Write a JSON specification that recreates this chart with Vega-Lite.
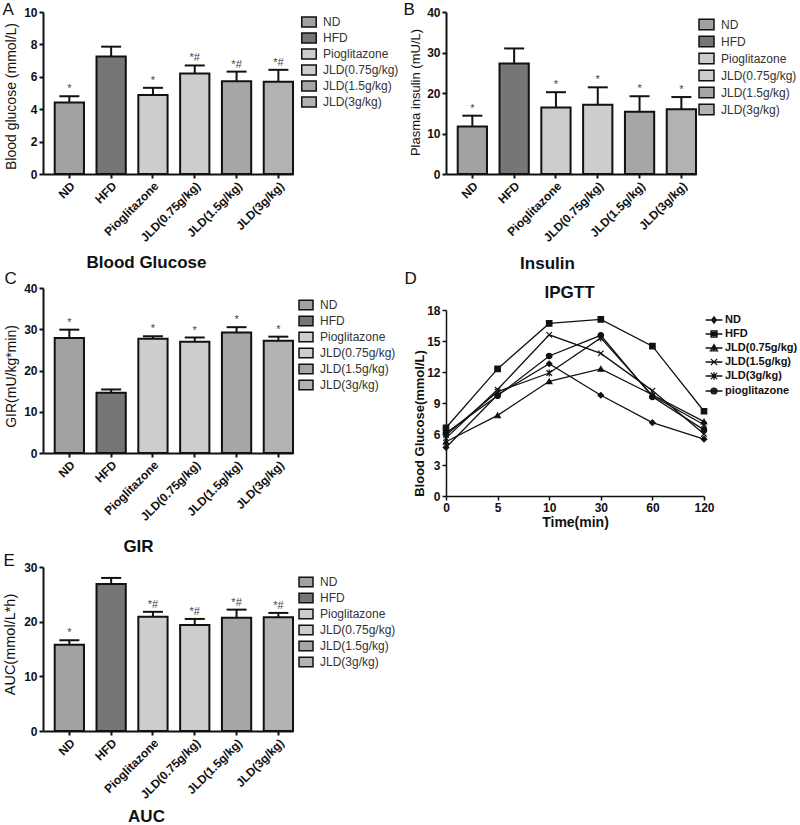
{
  "$schema": "https://vega.github.io/schema/vega-lite/v6.json",
  "background": "white",
  "padding": {"left": 2, "top": 0, "right": 0, "bottom": 3},
  "config": {
    "view": {"stroke": null},
    "font": "Liberation Sans",
    "axis": {"grid": false, "domainColor": "#111", "tickColor": "#111", "labelColor": "#111", "titleColor": "#111", "domainWidth": 2, "tickWidth": 2, "tickSize": 4, "labelFontSize": 12, "labelFontWeight": "bold", "labelPadding": 2, "labelFont": "Liberation Sans", "titleFont": "Liberation Sans", "labelOverlap": false, "labelFlush": false},
    "legend": {"padding": 0, "labelFont": "Liberation Sans"},
    "text": {"font": "Liberation Sans"}
  },
  "datasets": {
    "glucose": [
      {"group": "ND", "mean": 4.42, "upper": 4.8, "sig": "*"},
      {"group": "HFD", "mean": 7.25, "upper": 7.86, "sig": ""},
      {"group": "Pioglitazone", "mean": 4.87, "upper": 5.32, "sig": "*"},
      {"group": "JLD(0.75g/kg)", "mean": 6.2, "upper": 6.7, "sig": "*#"},
      {"group": "JLD(1.5g/kg)", "mean": 5.72, "upper": 6.32, "sig": "*#"},
      {"group": "JLD(3g/kg)", "mean": 5.69, "upper": 6.43, "sig": "*#"}
    ],
    "insulin": [
      {"group": "ND", "mean": 11.7, "upper": 14.4, "sig": "*"},
      {"group": "HFD", "mean": 27.3, "upper": 31.0, "sig": ""},
      {"group": "Pioglitazone", "mean": 16.4, "upper": 20.2, "sig": "*"},
      {"group": "JLD(0.75g/kg)", "mean": 17.1, "upper": 21.4, "sig": "*"},
      {"group": "JLD(1.5g/kg)", "mean": 15.4, "upper": 19.2, "sig": "*"},
      {"group": "JLD(3g/kg)", "mean": 16.0, "upper": 19.0, "sig": "*"}
    ],
    "gir": [
      {"group": "ND", "mean": 27.9, "upper": 29.9, "sig": "*"},
      {"group": "HFD", "mean": 14.6, "upper": 15.4, "sig": ""},
      {"group": "Pioglitazone", "mean": 27.7, "upper": 28.3, "sig": "*"},
      {"group": "JLD(0.75g/kg)", "mean": 27.0, "upper": 28.0, "sig": "*"},
      {"group": "JLD(1.5g/kg)", "mean": 29.2, "upper": 30.5, "sig": "*"},
      {"group": "JLD(3g/kg)", "mean": 27.2, "upper": 28.2, "sig": "*"}
    ],
    "auc": [
      {"group": "ND", "mean": 15.8, "upper": 16.6, "sig": "*"},
      {"group": "HFD", "mean": 26.9, "upper": 28.0, "sig": ""},
      {"group": "Pioglitazone", "mean": 20.9, "upper": 21.8, "sig": "*#"},
      {"group": "JLD(0.75g/kg)", "mean": 19.4, "upper": 20.5, "sig": "*#"},
      {"group": "JLD(1.5g/kg)", "mean": 20.7, "upper": 22.2, "sig": "*#"},
      {"group": "JLD(3g/kg)", "mean": 20.8, "upper": 21.6, "sig": "*#"}
    ],
    "ipgtt": [
      {"group": "ND", "time": 0, "glucose": 4.7},
      {"group": "ND", "time": 5, "glucose": 9.8},
      {"group": "ND", "time": 10, "glucose": 12.8},
      {"group": "ND", "time": 30, "glucose": 9.75},
      {"group": "ND", "time": 60, "glucose": 7.1},
      {"group": "ND", "time": 120, "glucose": 5.5},
      {"group": "HFD", "time": 0, "glucose": 6.6},
      {"group": "HFD", "time": 5, "glucose": 12.3},
      {"group": "HFD", "time": 10, "glucose": 16.7},
      {"group": "HFD", "time": 30, "glucose": 17.1},
      {"group": "HFD", "time": 60, "glucose": 14.5},
      {"group": "HFD", "time": 120, "glucose": 8.2},
      {"group": "JLD(0.75g/kg)", "time": 0, "glucose": 5.25},
      {"group": "JLD(0.75g/kg)", "time": 5, "glucose": 7.8},
      {"group": "JLD(0.75g/kg)", "time": 10, "glucose": 11.1},
      {"group": "JLD(0.75g/kg)", "time": 30, "glucose": 12.3},
      {"group": "JLD(0.75g/kg)", "time": 60, "glucose": 9.8},
      {"group": "JLD(0.75g/kg)", "time": 120, "glucose": 7.2},
      {"group": "JLD(1.5g/kg)", "time": 0, "glucose": 5.6},
      {"group": "JLD(1.5g/kg)", "time": 5, "glucose": 10.3},
      {"group": "JLD(1.5g/kg)", "time": 10, "glucose": 15.6},
      {"group": "JLD(1.5g/kg)", "time": 30, "glucose": 13.8},
      {"group": "JLD(1.5g/kg)", "time": 60, "glucose": 10.2},
      {"group": "JLD(1.5g/kg)", "time": 120, "glucose": 6.0},
      {"group": "JLD(3g/kg)", "time": 0, "glucose": 5.9},
      {"group": "JLD(3g/kg)", "time": 5, "glucose": 10.1},
      {"group": "JLD(3g/kg)", "time": 10, "glucose": 11.9},
      {"group": "JLD(3g/kg)", "time": 30, "glucose": 15.3},
      {"group": "JLD(3g/kg)", "time": 60, "glucose": 9.7},
      {"group": "JLD(3g/kg)", "time": 120, "glucose": 6.9},
      {"group": "pioglitazone", "time": 0, "glucose": 6.1},
      {"group": "pioglitazone", "time": 5, "glucose": 9.7},
      {"group": "pioglitazone", "time": 10, "glucose": 13.55},
      {"group": "pioglitazone", "time": 30, "glucose": 15.55},
      {"group": "pioglitazone", "time": 60, "glucose": 9.6},
      {"group": "pioglitazone", "time": 120, "glucose": 6.4}
    ]
  },
  "hconcat": [
    {
      "bounds": "flush",
      "spacing": 114,
      "resolve": {"scale": {"fill": "independent"}, "legend": {"fill": "independent"}},
      "vconcat": [
        {
          "width": 250, "height": 162,
          "data": {"name": "glucose"},
          "layer": [
            {
              "mark": {"type": "bar", "stroke": "#111", "strokeWidth": 2},
              "encoding": {
                "x": {"field": "group", "type": "nominal", "sort": null,
                  "scale": {"domain": ["ND", "HFD", "Pioglitazone", "JLD(0.75g/kg)", "JLD(1.5g/kg)", "JLD(3g/kg)"], "paddingInner": 0.3, "paddingOuter": 0.14, "align": 1},
                  "axis": {"orient": "bottom", "title": "Blood Glucose", "titleFontSize": 17, "titleFontWeight": "bold", "titleX": 103, "titleY": 93, "titleAlign": "center", "titleBaseline": "alphabetic", "labelAngle": -45, "labelAlign": "right", "labelBaseline": "top"}},
                "y": {"field": "mean", "type": "quantitative", "scale": {"domain": [0, 10], "nice": false},
                  "axis": {"title": "Blood glucose (mmol/L)", "values": [0, 2, 4, 6, 8, 10], "labelOverlap": false, "titleFontSize": 14, "titleFontWeight": "normal", "titleX": -32, "titleY": 84, "titleAngle": -90, "titleAlign": "center", "titleBaseline": "middle"}},
                "fill": {"field": "group", "type": "nominal",
                  "scale": {"domain": ["ND", "HFD", "Pioglitazone", "JLD(0.75g/kg)", "JLD(1.5g/kg)", "JLD(3g/kg)"], "range": ["#a2a2a2", "#767676", "#cdcdcd", "#cdcdcd", "#a6a6a6", "#b2b2b2"]},
                  "legend": {"orient": "none", "legendX": 258, "legendY": 2, "title": null, "symbolType": "M-1,-0.69L1,-0.69L1,0.69L-1,0.69Z", "symbolSize": 210, "symbolStrokeColor": "#111", "symbolStrokeWidth": 1.5, "labelFontSize": 12, "labelColor": "#333", "labelFontWeight": "normal", "labelOffset": 6, "rowPadding": 0, "padding": 0}}
              }
            },
            {
              "mark": {"type": "rule", "color": "#111", "strokeWidth": 2},
              "encoding": {
                "x": {"field": "group", "type": "nominal", "sort": null, "axis": null},
                "y": {"field": "mean", "type": "quantitative", "axis": null},
                "y2": {"field": "upper"}
              }
            },
            {
              "mark": {"type": "tick", "color": "#111", "thickness": 2, "size": 20, "orient": "horizontal", "opacity": 1},
              "encoding": {
                "x": {"field": "group", "type": "nominal", "sort": null, "axis": null},
                "y": {"field": "upper", "type": "quantitative", "axis": null}
              }
            },
            {
              "mark": {"type": "text", "dy": -7, "fontSize": 11, "color": "#444"},
              "encoding": {
                "x": {"field": "group", "type": "nominal", "sort": null,
                  "axis": {"orient": "top", "title": "A", "domain": false, "ticks": false, "labels": false, "titleX": -41, "titleY": 2, "titleAlign": "left", "titleBaseline": "alphabetic", "titleAngle": 0, "titleFontSize": 17, "titleFontWeight": "normal"}},
                "y": {"field": "upper", "type": "quantitative", "axis": null},
                "text": {"field": "sig"}
              }
            }
          ],
          "resolve": {"axis": {"x": "independent", "y": "independent"}}
        },
        {
          "width": 250, "height": 165,
          "data": {"name": "gir"},
          "layer": [
            {
              "mark": {"type": "bar", "stroke": "#111", "strokeWidth": 2},
              "encoding": {
                "x": {"field": "group", "type": "nominal", "sort": null,
                  "scale": {"domain": ["ND", "HFD", "Pioglitazone", "JLD(0.75g/kg)", "JLD(1.5g/kg)", "JLD(3g/kg)"], "paddingInner": 0.3, "paddingOuter": 0.14, "align": 1},
                  "axis": {"orient": "bottom", "title": "GIR", "titleFontSize": 17, "titleFontWeight": "bold", "titleX": 95, "titleY": 98, "titleAlign": "center", "titleBaseline": "alphabetic", "labelAngle": -45, "labelAlign": "right", "labelBaseline": "top"}},
                "y": {"field": "mean", "type": "quantitative", "scale": {"domain": [0, 40], "nice": false},
                  "axis": {"title": "GIR(mU/kg*min)", "values": [0, 10, 20, 30, 40], "labelOverlap": false, "titleFontSize": 14, "titleFontWeight": "normal", "titleX": -32, "titleY": 88, "titleAngle": -90, "titleAlign": "center", "titleBaseline": "middle"}},
                "fill": {"field": "group", "type": "nominal",
                  "scale": {"domain": ["ND", "HFD", "Pioglitazone", "JLD(0.75g/kg)", "JLD(1.5g/kg)", "JLD(3g/kg)"], "range": ["#a2a2a2", "#767676", "#cdcdcd", "#cdcdcd", "#a6a6a6", "#b2b2b2"]},
                  "legend": {"orient": "none", "legendX": 255, "legendY": 9, "title": null, "symbolType": "M-1,-0.69L1,-0.69L1,0.69L-1,0.69Z", "symbolSize": 196, "symbolStrokeColor": "#111", "symbolStrokeWidth": 1.5, "labelFontSize": 12, "labelColor": "#333", "labelFontWeight": "normal", "labelOffset": 6, "rowPadding": 0, "padding": 0}}
              }
            },
            {
              "mark": {"type": "rule", "color": "#111", "strokeWidth": 2},
              "encoding": {
                "x": {"field": "group", "type": "nominal", "sort": null, "axis": null},
                "y": {"field": "mean", "type": "quantitative", "axis": null},
                "y2": {"field": "upper"}
              }
            },
            {
              "mark": {"type": "tick", "color": "#111", "thickness": 2, "size": 20, "orient": "horizontal", "opacity": 1},
              "encoding": {
                "x": {"field": "group", "type": "nominal", "sort": null, "axis": null},
                "y": {"field": "upper", "type": "quantitative", "axis": null}
              }
            },
            {
              "mark": {"type": "text", "dy": -7, "fontSize": 11, "color": "#444"},
              "encoding": {
                "x": {"field": "group", "type": "nominal", "sort": null,
                  "axis": {"orient": "top", "title": "C", "domain": false, "ticks": false, "labels": false, "titleX": -39, "titleY": -5, "titleAlign": "left", "titleBaseline": "alphabetic", "titleAngle": 0, "titleFontSize": 17, "titleFontWeight": "normal"}},
                "y": {"field": "upper", "type": "quantitative", "axis": null},
                "text": {"field": "sig"}
              }
            }
          ],
          "resolve": {"axis": {"x": "independent", "y": "independent"}}
        },
        {
          "width": 250, "height": 164,
          "data": {"name": "auc"},
          "layer": [
            {
              "mark": {"type": "bar", "stroke": "#111", "strokeWidth": 2},
              "encoding": {
                "x": {"field": "group", "type": "nominal", "sort": null,
                  "scale": {"domain": ["ND", "HFD", "Pioglitazone", "JLD(0.75g/kg)", "JLD(1.5g/kg)", "JLD(3g/kg)"], "paddingInner": 0.3, "paddingOuter": 0.14, "align": 1},
                  "axis": {"orient": "bottom", "title": "AUC", "titleFontSize": 17, "titleFontWeight": "bold", "titleX": 103, "titleY": 90, "titleAlign": "center", "titleBaseline": "alphabetic", "labelAngle": -45, "labelAlign": "right", "labelBaseline": "top"}},
                "y": {"field": "mean", "type": "quantitative", "scale": {"domain": [0, 30], "nice": false},
                  "axis": {"title": "AUC(mmol/L*h)", "values": [0, 10, 20, 30], "labelOverlap": false, "titleFontSize": 14.5, "titleFontWeight": "normal", "titleX": -33, "titleY": 77, "titleAngle": -90, "titleAlign": "center", "titleBaseline": "middle"}},
                "fill": {"field": "group", "type": "nominal",
                  "scale": {"domain": ["ND", "HFD", "Pioglitazone", "JLD(0.75g/kg)", "JLD(1.5g/kg)", "JLD(3g/kg)"], "range": ["#a2a2a2", "#767676", "#cdcdcd", "#cdcdcd", "#a6a6a6", "#b2b2b2"]},
                  "legend": {"orient": "none", "legendX": 255, "legendY": 7, "title": null, "symbolType": "M-1,-0.69L1,-0.69L1,0.69L-1,0.69Z", "symbolSize": 196, "symbolStrokeColor": "#111", "symbolStrokeWidth": 1.5, "labelFontSize": 12, "labelColor": "#333", "labelFontWeight": "normal", "labelOffset": 6, "rowPadding": 0, "padding": 0}}
              }
            },
            {
              "mark": {"type": "rule", "color": "#111", "strokeWidth": 2},
              "encoding": {
                "x": {"field": "group", "type": "nominal", "sort": null, "axis": null},
                "y": {"field": "mean", "type": "quantitative", "axis": null},
                "y2": {"field": "upper"}
              }
            },
            {
              "mark": {"type": "tick", "color": "#111", "thickness": 2, "size": 20, "orient": "horizontal", "opacity": 1},
              "encoding": {
                "x": {"field": "group", "type": "nominal", "sort": null, "axis": null},
                "y": {"field": "upper", "type": "quantitative", "axis": null}
              }
            },
            {
              "mark": {"type": "text", "dy": -7, "fontSize": 11, "color": "#444"},
              "encoding": {
                "x": {"field": "group", "type": "nominal", "sort": null,
                  "axis": {"orient": "top", "title": "E", "domain": false, "ticks": false, "labels": false, "titleX": -40, "titleY": -2, "titleAlign": "left", "titleBaseline": "alphabetic", "titleAngle": 0, "titleFontSize": 17, "titleFontWeight": "normal"}},
                "y": {"field": "upper", "type": "quantitative", "axis": null},
                "text": {"field": "sig"}
              }
            }
          ],
          "resolve": {"axis": {"x": "independent", "y": "independent"}}
        }
      ]
    },
    {
      "bounds": "flush",
      "spacing": 136,
      "resolve": {"scale": {"fill": "independent", "shape": "independent"}, "legend": {"fill": "independent", "shape": "independent"}},
      "vconcat": [
        {
          "width": 250, "height": 162,
          "data": {"name": "insulin"},
          "layer": [
            {
              "mark": {"type": "bar", "stroke": "#111", "strokeWidth": 2},
              "encoding": {
                "x": {"field": "group", "type": "nominal", "sort": null,
                  "scale": {"domain": ["ND", "HFD", "Pioglitazone", "JLD(0.75g/kg)", "JLD(1.5g/kg)", "JLD(3g/kg)"], "paddingInner": 0.3, "paddingOuter": 0.14, "align": 1},
                  "axis": {"orient": "bottom", "title": "Insulin", "titleFontSize": 17, "titleFontWeight": "bold", "titleX": 101, "titleY": 94, "titleAlign": "center", "titleBaseline": "alphabetic", "labelAngle": -45, "labelAlign": "right", "labelBaseline": "top"}},
                "y": {"field": "mean", "type": "quantitative", "scale": {"domain": [0, 40], "nice": false},
                  "axis": {"title": "Plasma insulin (mU/L)", "values": [0, 10, 20, 30, 40], "labelOverlap": false, "titleFontSize": 13, "titleFontWeight": "normal", "titleX": -31, "titleY": 80, "titleAngle": -90, "titleAlign": "center", "titleBaseline": "middle"}},
                "fill": {"field": "group", "type": "nominal",
                  "scale": {"domain": ["ND", "HFD", "Pioglitazone", "JLD(0.75g/kg)", "JLD(1.5g/kg)", "JLD(3g/kg)"], "range": ["#a2a2a2", "#767676", "#cdcdcd", "#cdcdcd", "#a6a6a6", "#b2b2b2"]},
                  "legend": {"orient": "none", "legendX": 252, "legendY": 4, "title": null, "symbolType": "M-1,-0.69L1,-0.69L1,0.69L-1,0.69Z", "symbolSize": 225, "symbolStrokeColor": "#111", "symbolStrokeWidth": 1.5, "labelFontSize": 12, "labelColor": "#333", "labelFontWeight": "normal", "labelOffset": 6, "rowPadding": 0, "padding": 0}}
              }
            },
            {
              "mark": {"type": "rule", "color": "#111", "strokeWidth": 2},
              "encoding": {
                "x": {"field": "group", "type": "nominal", "sort": null, "axis": null},
                "y": {"field": "mean", "type": "quantitative", "axis": null},
                "y2": {"field": "upper"}
              }
            },
            {
              "mark": {"type": "tick", "color": "#111", "thickness": 2, "size": 20, "orient": "horizontal", "opacity": 1},
              "encoding": {
                "x": {"field": "group", "type": "nominal", "sort": null, "axis": null},
                "y": {"field": "upper", "type": "quantitative", "axis": null}
              }
            },
            {
              "mark": {"type": "text", "dy": -7, "fontSize": 11, "color": "#444"},
              "encoding": {
                "x": {"field": "group", "type": "nominal", "sort": null,
                  "axis": {"orient": "top", "title": "B", "domain": false, "ticks": false, "labels": false, "titleX": -43, "titleY": 2, "titleAlign": "left", "titleBaseline": "alphabetic", "titleAngle": 0, "titleFontSize": 17, "titleFontWeight": "normal"}},
                "y": {"field": "upper", "type": "quantitative", "axis": null},
                "text": {"field": "sig"}
              }
            }
          ],
          "resolve": {"axis": {"x": "independent", "y": "independent"}}
        },
        {
          "width": 258, "height": 186,
          "data": {"name": "ipgtt"},
          "layer": [
            {
              "mark": {"type": "line", "color": "#111", "strokeWidth": 1.3},
              "encoding": {
                "x": {"field": "time", "type": "ordinal",
                  "scale": {"type": "point", "padding": 0, "domain": [0, 5, 10, 30, 60, 120]},
                  "axis": {"orient": "bottom", "title": "Time(min)", "labelAngle": 0, "titleFontSize": 14, "titleFontWeight": "bold", "titleX": 129, "titleY": 30, "titleAlign": "center", "titleBaseline": "alphabetic", "domainWidth": 1.5, "tickWidth": 1.5, "labelPadding": 2}},
                "y": {"field": "glucose", "type": "quantitative", "scale": {"domain": [0, 18], "nice": false},
                  "axis": {"title": "Blood Glucose(mmol/L)", "values": [0, 3, 6, 9, 12, 15, 18], "labelOverlap": false, "titleFontSize": 13, "titleFontWeight": "bold", "titleX": -27, "titleY": 113, "titleAngle": -90, "titleAlign": "center", "titleBaseline": "middle", "domainWidth": 1.5, "tickWidth": 1.5}},
                "detail": {"field": "group"}
              }
            },
            {
              "mark": {"type": "point", "filled": true, "color": "#111", "stroke": "#111", "strokeWidth": 1.2, "size": 30, "opacity": 1},
              "encoding": {
                "x": {"field": "time", "type": "ordinal",
                  "axis": {"orient": "top", "title": "IPGTT", "domain": false, "ticks": false, "labels": false, "titleX": 123, "titleY": -13, "titleAlign": "center", "titleBaseline": "alphabetic", "titleAngle": 0, "titleFontSize": 17, "titleFontWeight": "bold"}},
                "y": {"field": "glucose", "type": "quantitative", "axis": null},
                "shape": {"field": "group", "type": "nominal",
                  "scale": {"domain": ["ND", "HFD", "JLD(0.75g/kg)", "JLD(1.5g/kg)", "JLD(3g/kg)", "pioglitazone"], "range": ["diamond", "square", "triangle-up", "M-1,-1L1,1M-1,1L1,-1", "M-1,-1L1,1M-1,1L1,-1M0,-1.3L0,1.3", "circle"]},
                  "legend": null}
              }
            },
            {
              "transform": [{"filter": "false"}],
              "mark": {"type": "point", "filled": false, "color": "#111", "strokeWidth": 1.3, "size": 196, "opacity": 1},
              "encoding": {
                "x": {"field": "time", "type": "ordinal", "axis": null},
                "y": {"field": "glucose", "type": "quantitative",
                  "axis": {"orient": "right", "title": "D", "domain": false, "ticks": false, "labels": false, "titleX": -300, "titleY": -27, "titleAlign": "left", "titleBaseline": "alphabetic", "titleAngle": 0, "titleFontSize": 17, "titleFontWeight": "normal"}},
                "shape": {"field": "group", "type": "nominal",
                  "scale": {"domain": ["ND", "HFD", "JLD(0.75g/kg)", "JLD(1.5g/kg)", "JLD(3g/kg)", "pioglitazone"],
                    "range": [
                      "M-1.2,0L1.2,0M0,-0.45L0.33,0L0,0.45L-0.33,0ZM-0.12,-0.22L0.12,-0.22M-0.12,0.22L0.12,0.22M0,-0.3L0,0.3",
                      "M-1.2,0L1.2,0M-0.43,-0.43L0.43,-0.43L0.43,0.43L-0.43,0.43ZM-0.43,-0.21L0.43,-0.21M-0.43,0.21L0.43,0.21",
                      "M-1.2,0L1.2,0M0,-0.5L0.5,0.4L-0.5,0.4ZM-0.25,0.2L0.25,0.2M0,-0.3L0,0.4",
                      "M-1.2,0L1.2,0M-0.45,-0.45L0.45,0.45M-0.45,0.45L0.45,-0.45",
                      "M-1.2,0L1.2,0M-0.45,-0.45L0.45,0.45M-0.45,0.45L0.45,-0.45M0,-0.55L0,0.55",
                      "M-1.2,0L1.2,0M0.42,0A0.42,0.42,0,1,1,-0.42,0A0.42,0.42,0,1,1,0.42,0ZM0,-0.3L0,0.3M-0.22,-0.22L0.22,0.22M-0.22,0.22L0.22,-0.22"
                    ]},
                  "legend": {"orient": "none", "legendX": 260, "legendY": 2, "title": null, "symbolSize": 196, "symbolStrokeColor": "#111", "symbolStrokeWidth": 1.3, "labelFontSize": 11, "labelFontWeight": "bold", "labelColor": "#111", "labelOffset": 3, "rowPadding": 0, "padding": 0}}
              }
            }
          ],
          "resolve": {"scale": {"shape": "independent"}, "axis": {"x": "independent", "y": "independent"}, "legend": {"shape": "independent"}}
        }
      ]
    }
  ],
  "resolve": {"scale": {"fill": "independent", "shape": "independent"}, "legend": {"fill": "independent", "shape": "independent"}},
  "spacing": 4,
  "bounds": "full"
}
